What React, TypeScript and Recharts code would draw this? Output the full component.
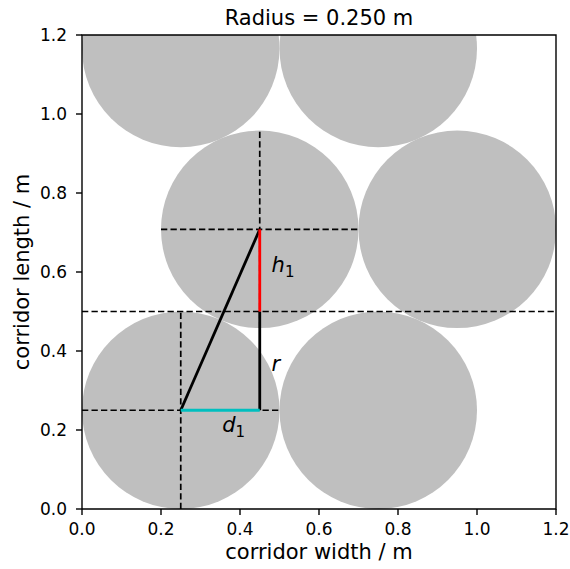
import { ComposedChart, Scatter, XAxis, YAxis } from 'recharts';

const W = 570;
const H = 569;
const MARGIN = { top: 35, right: 14, left: 0, bottom: 0 };
const Y_AXIS_W = 82;
const X_AXIS_H = 60;
const FONT = '"DejaVu Sans", sans-serif';

const DOMAIN: [number, number] = [0, 1.2];
const ticks = [0, 0.2, 0.4, 0.6, 0.8, 1.0, 1.2];

// circle packing, radius in metres
const radius = 0.25;
const circleX = [0.25, 0.75, 0.45, 0.95, 0.25, 0.75];
const circleY = [0.25, 0.25, 0.708, 0.708, 1.166, 1.166];

// helper lines [x1, y1, x2, y2]
const dashedSegments = [
  [0, 0.25, 0.5, 0.25],
  [0.25, 0, 0.25, 0.5],
  [0, 0.5, 1.2, 0.5],
  [0.2, 0.708, 0.7, 0.708],
  [0.45, 0.458, 0.45, 0.958],
];
const solidSegments = [
  [0.25, 0.25, 0.45, 0.708],
  [0.45, 0.25, 0.45, 0.5],
  [0.45, 0.5, 0.45, 0.708],
  [0.25, 0.25, 0.45, 0.25],
];
const solidColors = ['#000000', '#000000', '#ff0000', '#00bfbf'];

const mathLabels = [
  { x: 0.48, y: 0.6, base: 'h', sub: '1' },
  { x: 0.48, y: 0.35, base: 'r', sub: '' },
  { x: 0.355, y: 0.195, base: 'd', sub: '1' },
];

const frame = [
  { x: 0, y: 0 },
  { x: 1.2, y: 0 },
  { x: 1.2, y: 1.2 },
  { x: 0, y: 1.2 },
  { x: 0, y: 0 },
];

const circles = circleX.map((x, i) => ({ x, y: circleY[i] }));
const toPoints = (s: number[]) => [
  { x: s[0], y: s[1] },
  { x: s[2], y: s[3] },
];

const plotW = W - MARGIN.left - MARGIN.right - Y_AXIS_W;
const plotH = H - MARGIN.top - MARGIN.bottom - X_AXIS_H;
const pxPerM = plotW / (DOMAIN[1] - DOMAIN[0]);

const noDot = () => <g />;

const tickStyle = { fill: '#000', fontSize: 17, fontFamily: FONT };

export default function App() {
  const cx = MARGIN.left + Y_AXIS_W + plotW / 2;
  const cy = MARGIN.top + plotH / 2;
  return (
    <div style={{ position: 'relative', width: W, height: H, fontFamily: FONT }}>
      <style>{'body { margin: 0; overflow: hidden; }'}</style>
      <ComposedChart width={W} height={H} margin={MARGIN}>
        <XAxis
          type="number"
          dataKey="x"
          domain={DOMAIN}
          ticks={ticks}
          tickFormatter={(v) => Number(v).toFixed(1)}
          axisLine={false}
          stroke="#000"
          tickLine={{ stroke: '#000', strokeWidth: 1.4 }}
          tickSize={6}
          tickMargin={8}
          tick={tickStyle}
          height={X_AXIS_H}
        />
        <YAxis
          type="number"
          dataKey="y"
          domain={DOMAIN}
          ticks={ticks}
          tickFormatter={(v) => Number(v).toFixed(1)}
          axisLine={false}
          stroke="#000"
          tickLine={{ stroke: '#000', strokeWidth: 1.4 }}
          tickSize={6}
          tickMargin={9}
          tick={tickStyle}
          width={Y_AXIS_W}
        />
        <XAxis xAxisId="clip" type="number" dataKey="x" domain={DOMAIN} allowDataOverflow hide />
        <YAxis yAxisId="clip" type="number" dataKey="y" domain={DOMAIN} allowDataOverflow hide />

        <Scatter
          data={circles}
          xAxisId="clip"
          yAxisId="clip"
          isAnimationActive={false}
          shape={(p: any) => <circle cx={p.cx} cy={p.cy} r={radius * pxPerM} fill="#bfbfbf" />}
        />

        {dashedSegments.map((s, i) => (
          <Scatter
            key={`d${i}`}
            data={toPoints(s)}
            isAnimationActive={false}
            shape={noDot}
            line={{ stroke: '#000', strokeWidth: 1.7, strokeDasharray: '6.3 3.2' }}
          />
        ))}

        {solidSegments.map((s, i) => (
          <Scatter
            key={`s${i}`}
            data={toPoints(s)}
            isAnimationActive={false}
            shape={noDot}
            line={{ stroke: solidColors[i], strokeWidth: 2.8 }}
          />
        ))}

        <Scatter
          data={frame}
          isAnimationActive={false}
          shape={noDot}
          line={{ stroke: '#000', strokeWidth: 1.4 }}
        />

        <Scatter
          data={mathLabels}
          isAnimationActive={false}
          shape={(p: any) => (
            <text x={p.cx} y={p.cy} fontFamily={FONT} fontSize={21} fill="#000">
              <tspan fontStyle="italic">{p.payload.base}</tspan>
              {p.payload.sub ? (
                <tspan dy={5} fontSize={15}>
                  {p.payload.sub}
                </tspan>
              ) : null}
            </text>
          )}
        />
      </ComposedChart>

      <svg
        width={W}
        height={H}
        style={{ position: 'absolute', left: 0, top: 0, pointerEvents: 'none' }}
      >
        <text x={cx} y={24.5} textAnchor="middle" fontSize={21} fontFamily={FONT} fill="#000">
          Radius = 0.250 m
        </text>
        <text x={cx} y={559} textAnchor="middle" fontSize={21} fontFamily={FONT} fill="#000">
          corridor width / m
        </text>
        <text
          x={29}
          y={cy}
          transform={`rotate(-90 29 ${cy})`}
          textAnchor="middle"
          fontSize={21}
          fontFamily={FONT}
          fill="#000"
        >
          corridor length / m
        </text>
      </svg>
    </div>
  );
}
